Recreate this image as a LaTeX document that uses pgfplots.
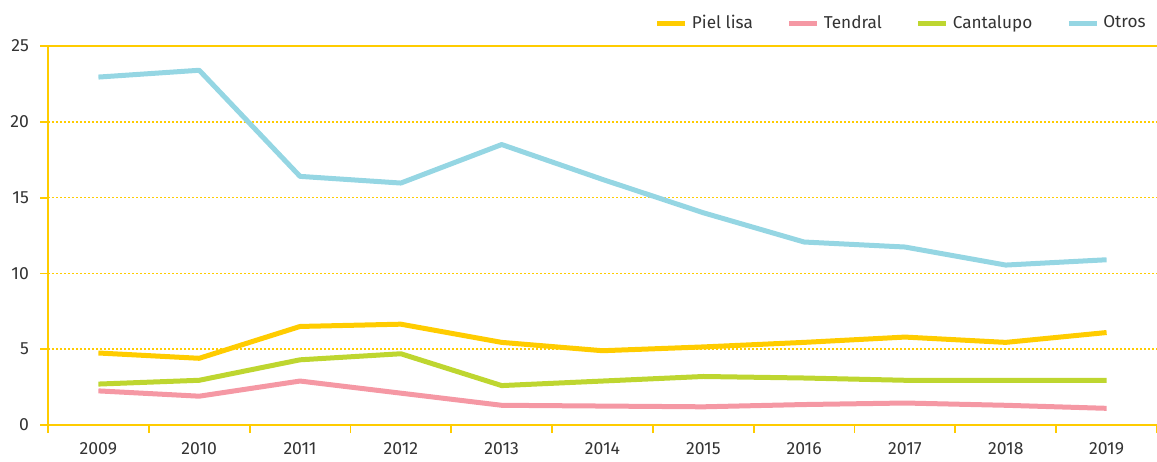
\documentclass[border=0pt]{standalone}
\usepackage{pgfplots}
\pgfplotsset{compat=1.18}
\usepackage{fontspec}
\setmainfont{Fira Sans}
\definecolor{cY}{HTML}{FFCC00}
\definecolor{cP}{HTML}{F598A4}
\definecolor{cG}{HTML}{BED630}
\definecolor{cB}{HTML}{95D6E3}
\definecolor{txt}{HTML}{333333}
\begin{document}
\begin{tikzpicture}
\begin{axis}[name=ax, scale only axis, width=554.5pt, height=189.5pt,
  xmin=-0.5, xmax=10.5, ymin=0, ymax=25,
  axis lines=left, axis line style={-, cY, line width=0.9pt},
  xtick={-0.5,0.5,...,10.5}, xticklabels={},
  extra x ticks={0,1,2,3,4,5,6,7,8,9,10},
  extra x tick labels={2009,2010,2011,2012,2013,2014,2015,2016,2017,2018,2019},
  extra x tick style={major tick length=0pt, grid=none, xticklabel style={yshift=-5pt}},
  ytick={0,5,10,15,20,25}, ymajorgrids, grid style={cY, dash pattern=on 1pt off 1pt, line width=0.8pt},
  tick style={cY, line width=0.9pt}, major tick length=4pt, tick align=outside,
  tick label style={font=\fontsize{8.8}{10}\selectfont, text=txt},
  yticklabel style={xshift=-2pt},
  /pgf/number format/assume math mode=true,
  clip=false,
  legend style={at={(1,1)}, anchor=south east, xshift=-0.5pt, yshift=3pt, draw=none, fill=none,
    legend columns=4, font=\fontsize{8.6}{10}\selectfont, text=txt,
    /tikz/every even column/.append style={column sep=15pt}},
  legend image code/.code={\draw[#1, line width=2.5pt] (0pt,0pt) -- (14pt,0pt);},
  every axis plot/.append style={line width=2.5pt, line join=round},
]
\draw[cY, line width=0.9pt] (rel axis cs:0,1) -- (rel axis cs:1,1);
\addplot[cY] coordinates {(0,4.75)(1,4.4)(2,6.5)(3,6.65)(4,5.45)(5,4.9)(6,5.15)(7,5.45)(8,5.8)(9,5.45)(10,6.1)};
\addlegendentry{Piel lisa}
\addplot[cP] coordinates {(0,2.25)(1,1.9)(2,2.9)(3,2.1)(4,1.3)(5,1.25)(6,1.2)(7,1.35)(8,1.45)(9,1.3)(10,1.1)};
\addlegendentry{Tendral}
\addplot[cG] coordinates {(0,2.7)(1,2.95)(2,4.3)(3,4.7)(4,2.6)(5,2.9)(6,3.2)(7,3.1)(8,2.95)(9,2.95)(10,2.95)};
\addlegendentry{Cantalupo}
\addplot[cB] coordinates {(0,22.95)(1,23.4)(2,16.4)(3,15.96)(4,18.5)(5,16.2)(6,14.0)(7,12.07)(8,11.74)(9,10.55)(10,10.9)};
\addlegendentry{Otros}
\end{axis}
\pgfresetboundingbox
\useasboundingbox ([xshift=-24pt,yshift=-18pt]ax.south west) rectangle ([yshift=23pt]ax.north east);
\end{tikzpicture}
\end{document}
